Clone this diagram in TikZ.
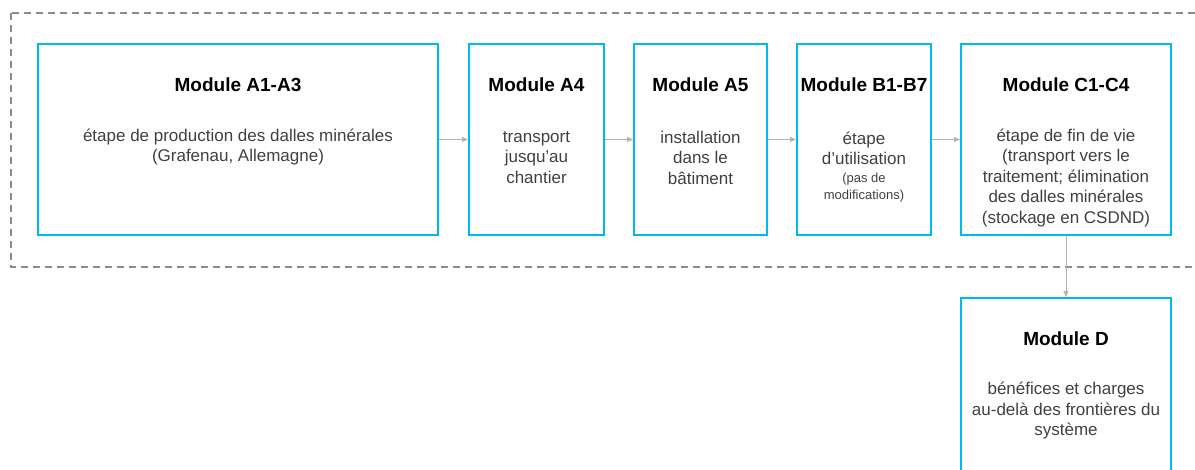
\documentclass[tikz,border=0pt]{standalone}
\usepackage{fontspec}
\setmainfont{Liberation Sans}
\usetikzlibrary{arrows.meta}
\definecolor{boxblue}{HTML}{00B8F0}
\definecolor{framegray}{HTML}{8C8C8C}
\definecolor{arrowgray}{HTML}{B4B4B4}
\definecolor{bodygray}{HTML}{404040}
\begin{document}
\begin{tikzpicture}[x=1pt,y=-1pt,
  modbox/.style={draw=boxblue, line width=2pt, fill=none, inner sep=0pt},
  titletext/.style={font=\bfseries\fontsize{19}{22}\selectfont, text=black, inner sep=0pt, align=center},
  bodytext/.style={font=\fontsize{17}{20.5}\selectfont, text=bodygray, inner sep=0pt, align=center},
  smalltext/.style={font=\fontsize{13}{17}\selectfont, text=bodygray, inner sep=0pt, align=center},
  conn/.style={draw=arrowgray, line width=1pt, -{Triangle[length=6pt,width=5pt]}},
  frame/.style={draw=framegray, line width=1.3pt, dash pattern=on 7pt off 5pt}
]
\clip (0,0) rectangle (1195,470);
\draw[frame] (11,13) rectangle (1225,267);

\node[modbox, minimum width=400pt, minimum height=191pt] (a13) at (238,139.5) {};
\node[modbox, minimum width=135pt, minimum height=191pt] (a4) at (536.5,139.5) {};
\node[modbox, minimum width=133pt, minimum height=191pt] (a5) at (700.5,139.5) {};
\node[modbox, minimum width=134pt, minimum height=191pt] (b17) at (864,139.5) {};
\node[modbox, minimum width=210pt, minimum height=191pt] (c14) at (1066,139.5) {};
\node[modbox, minimum width=210pt, minimum height=262pt] (d) at (1066,429) {};

\node[titletext] (t13) at (238,85) {Module A1-A3};
\node[titletext] (t4) at (536.5,85) {Module A4};
\node[titletext] (t5) at (700.5,85) {Module A5};
\node[titletext] (tb) at (864,85) {Module B1-B7};
\node[titletext] (tc) at (1066,85) {Module C1-C4};
\node[titletext] (td) at (1066,339) {Module D};

\node[bodytext] (x13) at (238,147) {étape de production des dalles minérales\\(Grafenau, Allemagne)};
\node[bodytext] (x4) at (536.5,157.5) {transport\\jusqu’au\\chantier};
\node[bodytext] (x5) at (700.5,157.5) {installation\\dans le\\bâtiment};
\node[bodytext] (xb) at (864,148.5) {étape\\d’utilisation};
\node[smalltext] (xbs) at (864,187.5) {(pas de\\modifications)};
\node[bodytext] (xc) at (1066,178) {étape de fin de vie\\(transport vers le\\traitement; élimination\\des dalles minérales\\(stockage en CSDND)};
\node[bodytext] (xd) at (1066,411) {bénéfices et charges\\au-delà des frontières du\\système};

\draw[conn] (a13.east) -- (a4.west);
\draw[conn] (a4.east) -- (a5.west);
\draw[conn] (a5.east) -- (b17.west);
\draw[conn] (b17.east) -- (c14.west);
\draw[conn] (c14.south) -- (d.north);
\end{tikzpicture}
\end{document}
